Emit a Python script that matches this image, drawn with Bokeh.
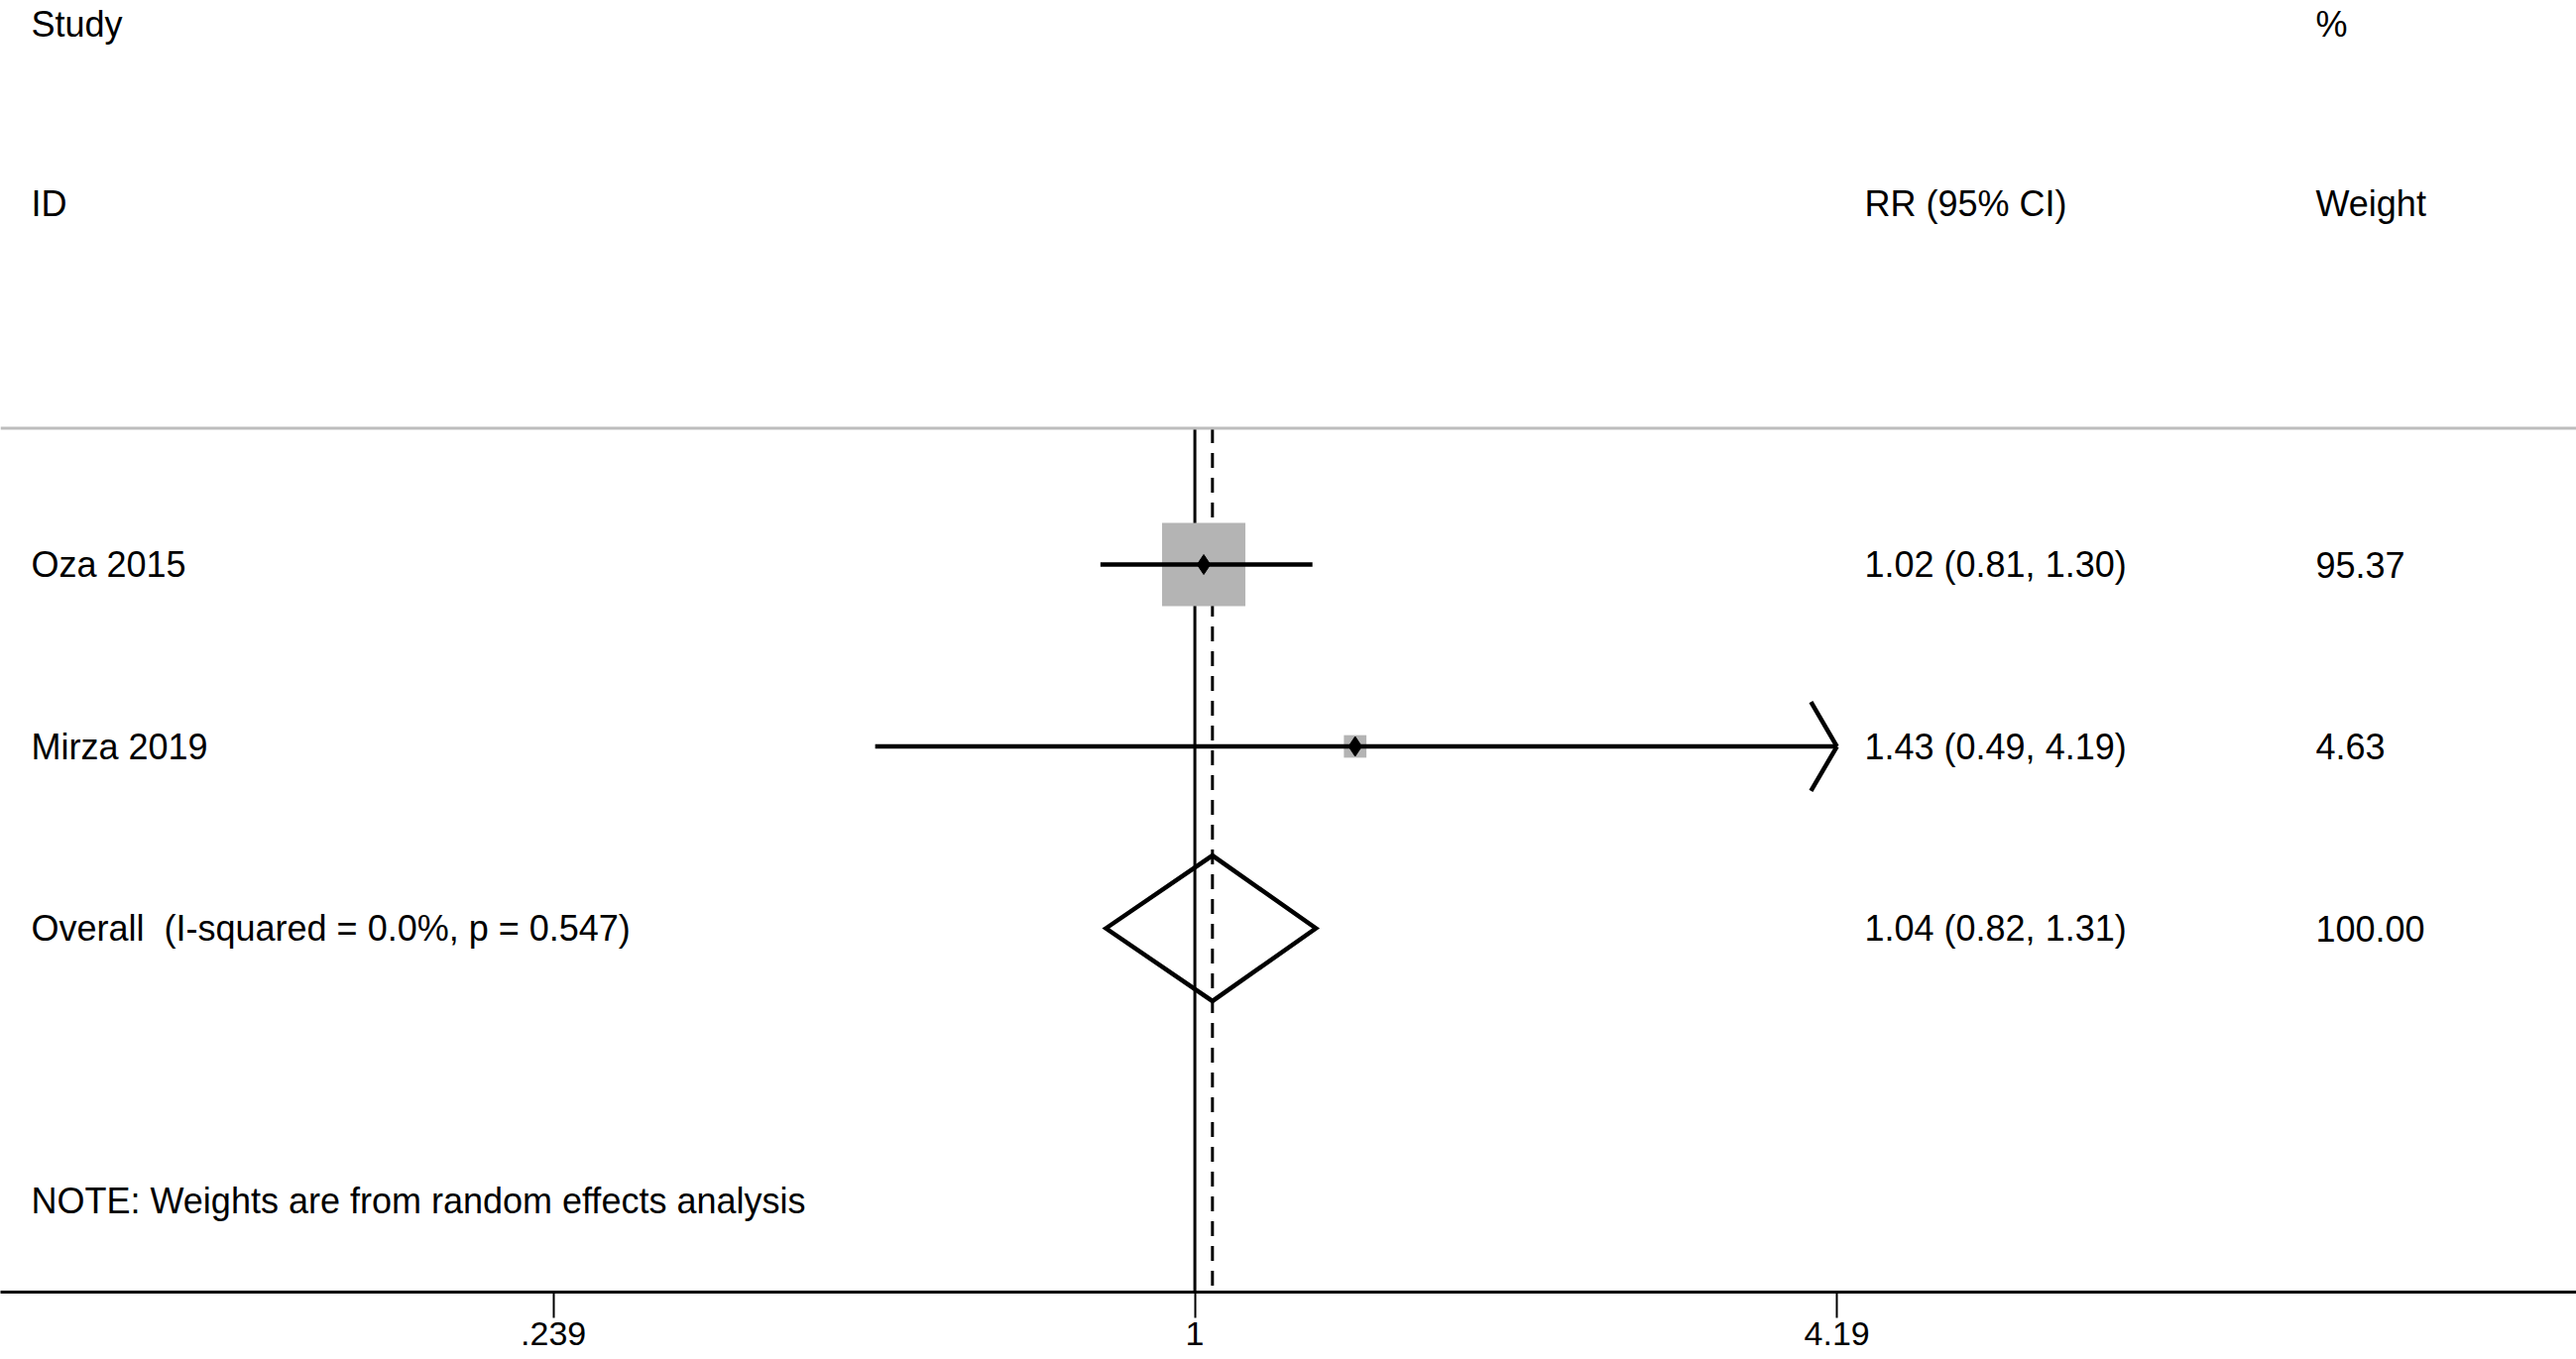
import math
from bokeh.plotting import figure
from bokeh.models import Range1d, FixedTicker, ColumnDataSource, Span, LinearScale
from bokeh.embed import file_html
from bokeh.resources import INLINE
from bokeh.core.properties import value

# ---------------- data ----------------
studies = ["Oza 2015", "Mirza 2019"]
rr = [1.02, 1.43]
lo = [0.81, 0.49]
hi = [1.30, 4.19]
weights = [95.37, 4.63]
effect_text = ["1.02 (0.81, 1.30)", "1.43 (0.49, 4.19)"]
weight_text = ["95.37", "4.63"]

overall_label = "Overall\u00a0 (I-squared = 0.0%, p = 0.547)"
overall_rr = 1.04
overall_lo = 0.82
overall_hi = 1.31
overall_effect_text = "1.04 (0.82, 1.31)"
overall_weight_text = "100.00"

note = "NOTE: Weights are from random effects analysis"
header_left = ["Study", "ID"]
header_mid = ["", "RR (95% CI)"]
header_right = ["%", "Weight"]

tick_values = [0.239, 1, 4.19]
tick_labels = [".239", "1", "4.19"]

# ---------------- layout ----------------
W, H = 2598, 1371
FONT = "Liberation Sans"
FS = "36px"
n = len(studies)
rows = [i + 1 for i in range(n)]
y_overall = n + 1
y_note = n + 2.5
y_axis = n + 3
y_line = 0.25
y_headers = [-1.97, -0.985]

p = figure(width=W, height=H, x_axis_type="log",
           x_range=Range1d(0.0696, 21.82), y_range=Range1d(y_axis, -2.101),
           output_backend="svg", toolbar_location=None, min_border=0,
           min_border_bottom=68, y_axis_location=None, title=None)
p.outline_line_color = None
p.xgrid.visible = False
p.ygrid.visible = False
p.background_fill_color = "white"
p.border_fill_color = "white"

ax = p.xaxis[0]
ax.ticker = FixedTicker(ticks=tick_values)
ax.major_label_overrides = {float(t): l for t, l in zip(tick_values, tick_labels)}
ax.axis_line_width = 3
ax.axis_line_color = "black"
ax.major_tick_line_width = 2
ax.major_tick_line_color = "black"
ax.major_tick_out = 26
ax.major_tick_in = 0
ax.minor_tick_line_color = None
ax.major_label_standoff = 4
ax.major_label_text_font = FONT
ax.major_label_text_font_size = "34px"
ax.major_label_text_color = "black"

# header separator
p.add_layout(Span(location=y_line, dimension="width", line_color="#bdbdbd", line_width=3))

# null line and overall dashed line
p.segment(x0=[1], y0=[y_line], x1=[1], y1=[y_axis], line_color="black", line_width=3)
p.segment(x0=[overall_rr], y0=[y_line], x1=[overall_rr], y1=[y_axis],
          line_color="black", line_width=3, line_dash="15 10")

# weight boxes
box_sizes = [5.4 + 8.05 * math.sqrt(w) for w in weights]
p.scatter(x=rr, y=rows, size=box_sizes, marker="square",
          fill_color="#b4b4b4", line_color=None)

# CI lines
p.segment(x0=lo, y0=rows, x1=hi, y1=rows, line_color="black", line_width=4.5)

# arrows where the CI reaches the axis limit
arr_x0, arr_y0, arr_x1, arr_y1 = [], [], [], []
for h, yy in zip(hi, rows):
    if h >= max(tick_values):
        back = h * math.exp(-0.058)
        for d in (-0.245, 0.245):
            arr_x0.append(back); arr_y0.append(yy + d)
            arr_x1.append(h); arr_y1.append(yy)
p.segment(x0=arr_x0, y0=arr_y0, x1=arr_x1, y1=arr_y1, line_color="black", line_width=4.5)

# point estimates
p.scatter(x=rr, y=rows, size=20, marker="diamond", fill_color="black", line_color="black")

# overall diamond
p.patch(x=[overall_lo, overall_rr, overall_hi, overall_rr],
        y=[y_overall, y_overall - 0.4, y_overall, y_overall + 0.4],
        fill_color=None, line_color="black", line_width=4.5, line_join="miter")

# ---------------- text table ----------------
p.extra_x_ranges["table"] = Range1d(0, W)
p.extra_x_scales["table"] = LinearScale()
col_left, col_mid, col_right = 31, 1880, 2335

tx, ty, tt = [], [], []
for yy, a, b, c in zip(y_headers, header_left, header_mid, header_right):
    for x, s in ((col_left, a), (col_mid, b), (col_right, c)):
        if s:
            tx.append(x); ty.append(yy); tt.append(s)
for yy, a, b, c in zip(rows, studies, effect_text, weight_text):
    for x, s in ((col_left, a), (col_mid, b), (col_right, c)):
        tx.append(x); ty.append(yy); tt.append(s)
for x, s in ((col_left, overall_label), (col_mid, overall_effect_text), (col_right, overall_weight_text)):
    tx.append(x); ty.append(y_overall); tt.append(s)
tx.append(col_left); ty.append(y_note); tt.append(note)

src = ColumnDataSource(dict(x=tx, y=ty, text=tt))
p.text(x="x", y="y", text="text", source=src, x_range_name="table",
       text_font=value(FONT), text_font_size=FS, text_baseline="middle",
       text_align="left", text_color="black")

open("out.html", "w").write(file_html(p, INLINE))
